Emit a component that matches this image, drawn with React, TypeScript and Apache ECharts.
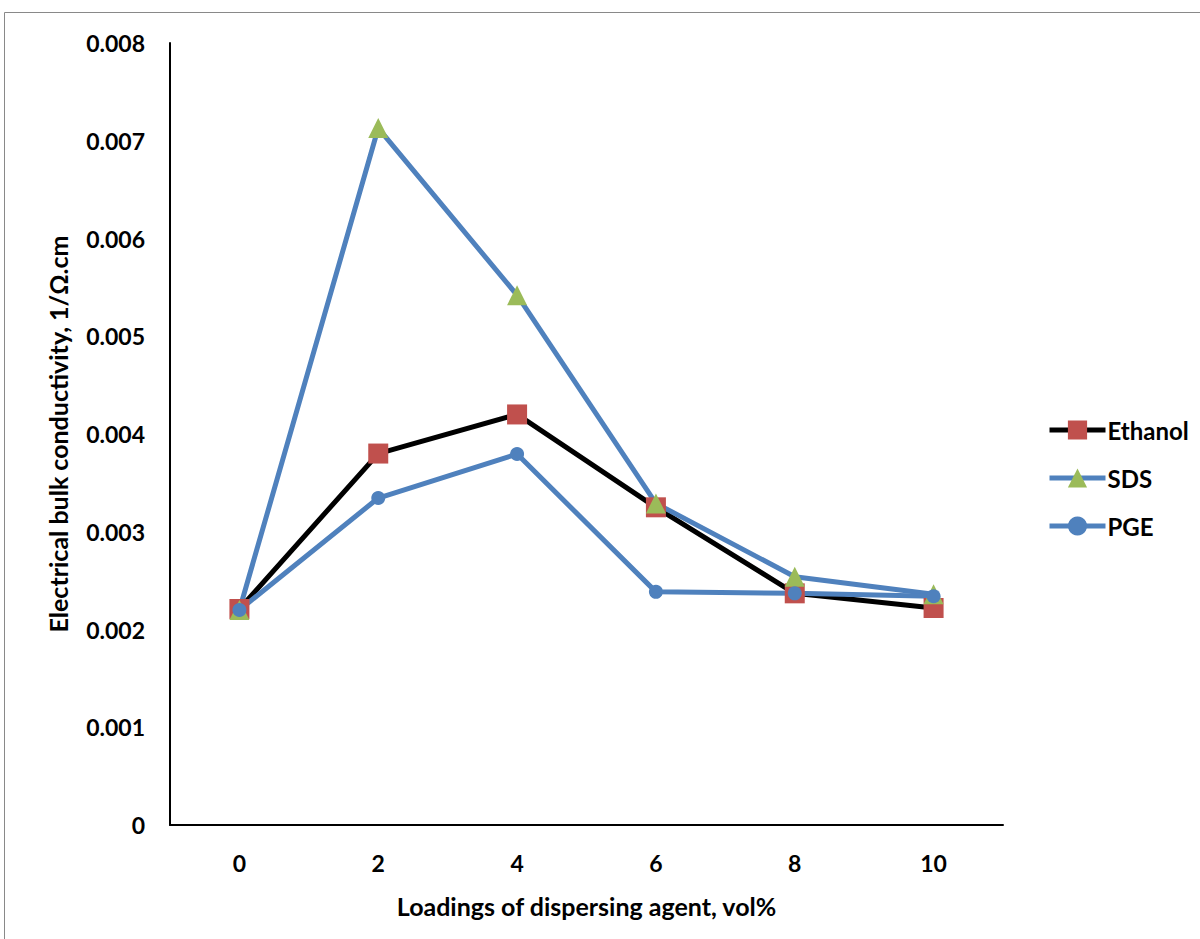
import React, { useEffect, useRef } from "react";
import * as echarts from "echarts";

const categories = ["0", "2", "4", "6", "8", "10"];
const ethanol = [0.00221, 0.0038, 0.0042, 0.00325, 0.00237, 0.00222];
const sds = [0.0022, 0.00713, 0.00542, 0.00329, 0.00254, 0.00236];
const pge = [0.0022, 0.003345, 0.003795, 0.002385, 0.00237, 0.00234];

const yMin = 0;
const yMax = 0.008;
const yInterval = 0.001;

const FONT = "Lato";

export default function App() {
  const ref = useRef<HTMLDivElement>(null);
  useEffect(() => {
    if (!ref.current) return;
    const chart = echarts.init(ref.current, undefined, { renderer: "svg" });
    chart.setOption({
      animation: false,
      backgroundColor: "#ffffff",
      textStyle: { fontFamily: FONT },
      graphic: [
        {
          type: "rect",
          shape: { x: 4.5, y: 12.5, width: 1300, height: 1000 },
          style: { fill: "none", stroke: "#898989", lineWidth: 1 },
          silent: true,
        },
      ],
      grid: { left: 170, top: 43, right: 197, bottom: 114 },
      legend: {
        orient: "vertical",
        left: 1042,
        top: 413,
        itemWidth: 56,
        itemHeight: 24,
        itemGap: 24,
        lineStyle: { width: 5 },
        textStyle: {
          fontFamily: FONT,
          fontWeight: "bold",
          fontSize: 24,
          lineHeight: 24,
          color: "#000",
          padding: [0, 0, 0, -3],
        },
        data: ["Ethanol", "SDS", "PGE"],
      },
      xAxis: {
        type: "category",
        data: categories,
        boundaryGap: true,
        name: "Loadings of dispersing agent, vol%",
        nameLocation: "middle",
        nameGap: 68,
        nameTextStyle: { fontFamily: FONT, fontWeight: "bold", fontSize: 25, color: "#000" },
        axisLine: { lineStyle: { color: "#000", width: 2 } },
        axisTick: { show: false },
        axisLabel: { fontFamily: FONT, fontWeight: "bold", fontSize: 23, color: "#000", margin: 26 },
        splitLine: { show: false },
      },
      yAxis: {
        type: "value",
        min: yMin,
        max: yMax,
        interval: yInterval,
        name: "Electrical bulk conductivity, 1/Ω.cm",
        nameLocation: "middle",
        nameGap: 100,
        nameTextStyle: { fontFamily: FONT, fontWeight: "bold", fontSize: 25, color: "#000" },
        axisLine: { show: true, lineStyle: { color: "#000", width: 2 } },
        axisTick: { show: false },
        splitLine: { show: false },
        axisLabel: {
          fontFamily: FONT,
          fontWeight: "bold",
          fontSize: 23,
          color: "#000",
          margin: 25,
          formatter: (v: number) => (v === 0 ? "0" : v.toFixed(3)),
        },
      },
      series: [
        {
          name: "Ethanol",
          type: "line",
          data: ethanol,
          symbol: "rect",
          symbolSize: 20,
          lineStyle: { color: "#000000", width: 5 },
          itemStyle: { color: "#C0504D" },
        },
        {
          name: "SDS",
          type: "line",
          data: sds,
          symbol: "triangle",
          symbolSize: 20,
          lineStyle: { color: "#4F81BD", width: 5 },
          itemStyle: { color: "#9BBB59" },
        },
        {
          name: "PGE",
          type: "line",
          data: pge,
          symbol: "circle",
          symbolSize: 14,
          lineStyle: { color: "#4F81BD", width: 5 },
          itemStyle: { color: "#4F81BD" },
        },
      ],
    });
    return () => chart.dispose();
  }, []);
  return (
    <div
      ref={ref}
      style={{ position: "fixed", left: 0, top: 0, width: 1200, height: 939 }}
    />
  );
}
